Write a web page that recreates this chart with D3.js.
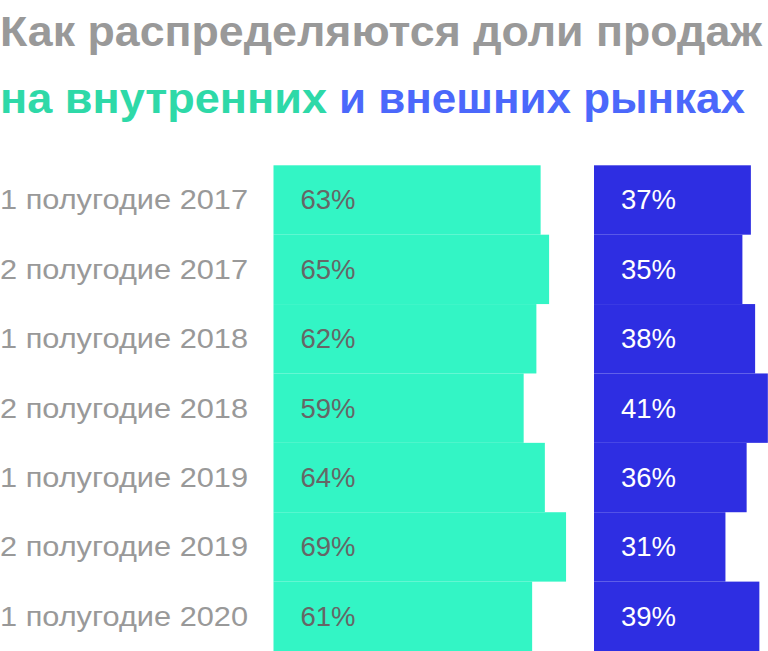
<!DOCTYPE html>
<html><head><meta charset="utf-8">
<script src="https://cdn.jsdelivr.net/npm/d3@7"></script>
<style>html,body{margin:0;padding:0;background:#fff;overflow:hidden}</style>
</head><body>
<svg id="c" width="768" height="651"></svg>
<script>
const categories = ["1 полугодие 2017","2 полугодие 2017","1 полугодие 2018","2 полугодие 2018","1 полугодие 2019","2 полугодие 2019","1 полугодие 2020"];
const domestic = [63,65,62,59,64,69,61];
const foreign = [37,35,38,41,36,31,39];
const titleLine1 = "Как распределяются доли продаж";
const titleGreen = "на внутренних";
const titleBlue = "и внешних рынках";

const svg = d3.select("#c");
const font = "'Liberation Sans', Arial, sans-serif";

const y = d3.scaleBand().domain(categories).range([165.3, 651]).padding(0);
const x = d3.scaleLinear().domain([0, 100]).range([0, 424]);
const gx = 273.5, bx = 594;

function title(txt, x0, x1, yy, fill) {
  return svg.append("text").attr("x", x0).attr("y", yy)
    .attr("font-family", font).attr("font-weight", 700).attr("font-size", 42.5)
    .attr("fill", fill).attr("textLength", x1 - x0)
    .attr("lengthAdjust", "spacingAndGlyphs").text(txt);
}
title(titleLine1, 0, 762, 46, "#999999");
title(titleGreen, 0, 327, 113, "#2ED9A8");
title(titleBlue, 339, 745, 113, "#4B68FB");

// bars
svg.append("g").selectAll("rect").data(domestic).join("rect")
  .attr("x", gx).attr("y", (d,i) => y(categories[i]))
  .attr("width", d => x(d)).attr("height", y.bandwidth())
  .attr("fill", "#33F5C5");
svg.append("g").selectAll("rect").data(foreign).join("rect")
  .attr("x", bx).attr("y", (d,i) => y(categories[i]))
  .attr("width", d => x(d)).attr("height", y.bandwidth())
  .attr("fill", "#2E2EE2");

const lfs = 27.5;
const cy = c => y(c) + y.bandwidth()/2 + 9.5;
svg.append("g").selectAll("text").data(categories).join("text")
  .attr("x", 0).attr("y", d => cy(d))
  .attr("font-family", font).attr("font-size", 28).attr("fill", "#999999")
  .attr("textLength", 248).attr("lengthAdjust", "spacingAndGlyphs")
  .text(d => d);
svg.append("g").selectAll("text").data(domestic).join("text")
  .attr("x", gx + 27).attr("y", (d,i) => cy(categories[i]))
  .attr("font-family", font).attr("font-size", lfs).attr("fill", "#666666")
  .text(d => d + "%");
svg.append("g").selectAll("text").data(foreign).join("text")
  .attr("x", bx + 27).attr("y", (d,i) => cy(categories[i]))
  .attr("font-family", font).attr("font-size", lfs).attr("fill", "#ffffff")
  .text(d => d + "%");
</script>
</body></html>
